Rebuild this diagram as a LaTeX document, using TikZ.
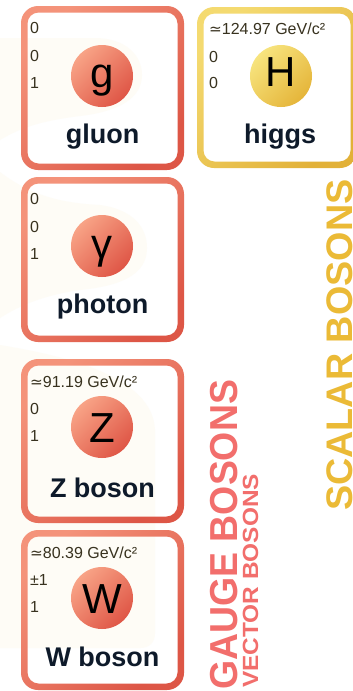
\documentclass[tikz,border=0pt]{standalone}
\usepackage{fontspec}
\setmainfont{Liberation Sans}
\newfontfamily\symfont{DejaVu Sans}
\definecolor{redA}{HTML}{F4937A}
\definecolor{redB}{HTML}{DD5646}
\definecolor{yelA}{HTML}{F4DA70}
\definecolor{yelB}{HTML}{E2B138}
\definecolor{cirRA}{HTML}{F8A386}
\definecolor{cirRB}{HTML}{DF5646}
\definecolor{cirYA}{HTML}{F7E47E}
\definecolor{cirYB}{HTML}{E5B53A}
\definecolor{cream}{HTML}{FEFCF6}
\definecolor{namec}{HTML}{0E1A2A}
\definecolor{numc}{HTML}{38321F}
\definecolor{gaugec}{HTML}{F26E6C}
\definecolor{scalarc}{HTML}{EBBA36}
\newcommand\approxeqsym{{\symfont\scalebox{0.95}{≃}}}
\tikzset{
  numtxt/.style={anchor=base west, inner sep=0pt, text=numc, font=\fontsize{16}{16}\selectfont},
  nametxt/.style={anchor=base, inner sep=0pt, text=namec, font=\fontsize{27}{27}\selectfont\bfseries},
  lettxt/.style={anchor=base, inner sep=0pt, text=black, font=\fontsize{42}{42}\selectfont},
  redball/.style={circle, minimum size=62pt, inner sep=0pt, top color=cirRA, bottom color=cirRB, shading angle=45},
  yelball/.style={circle, minimum size=62pt, inner sep=0pt, top color=cirYA, bottom color=cirYB, shading angle=45},
}
\newcommand\ringbox[6]{%
  \shade[even odd rule, top color=#5, bottom color=#6, shading angle=45, rounded corners=17pt]
    (#1,#2) rectangle (#3,#4) [rounded corners=11pt] (#1+6.5,#2+6.5) rectangle (#3-6.5,#4-6.5);}
\begin{document}
\begin{tikzpicture}[x=1pt,y=-1pt]
\useasboundingbox (0,0) rectangle (353,691);
\fill[white] (0,0) rectangle (353,691);
% faint cream background
\fill[cream] (0,38) -- (95,38) .. controls (125,38) and (142,55) .. (142,75)
  .. controls (142,100) and (115,112) .. (80,116) .. controls (40,121) and (20,128) .. (0,140) -- cycle;
\fill[cream] (0,172) .. controls (30,195) and (60,203) .. (100,205)
  .. controls (130,209) and (147,225) .. (147,248) .. controls (147,275) and (120,286) .. (80,290)
  .. controls (45,295) and (20,305) .. (0,318) -- cycle;
\fill[cream] (0,345) .. controls (60,355) and (153,375) .. (155,430) -- (155,633)
  .. controls (155,642) and (150,648) .. (140,648) -- (0,648) -- cycle;
% boxes
\ringbox{21}{6}{184}{170}{redA}{redB}
\ringbox{21}{177}{184}{342}{redA}{redB}
\ringbox{21}{359}{184}{523}{redA}{redB}
\ringbox{21}{530}{184}{690}{redA}{redB}
\ringbox{197}{7}{357}{168}{yelA}{yelB}
% gluon
\node[redball] (gball) at (102,76) {};
\node[lettxt] (glet) at (102,87) {g};
\node[numtxt] (gm) at (30,33) {0};
\node[numtxt] (gq) at (30,61) {0};
\node[numtxt] (gs) at (30,88) {1};
\node[nametxt] (gname) at (102.5,143) {gluon};
% higgs
\node[yelball] (hball) at (281,76) {};
\node[lettxt] (hlet) at (281,86) {H};
\node[numtxt] (hm) at (209,34) {\approxeqsym124.97 GeV/c²};
\node[numtxt] (hq) at (209,62) {0};
\node[numtxt] (hs) at (209,88) {0};
\node[nametxt] (hname) at (280,143) {higgs};
% photon
\node[redball] (pball) at (102,246) {};
\node[lettxt] (plet) at (102,258) {γ};
\node[numtxt] (pm) at (30,204) {0};
\node[numtxt] (pq) at (30,232) {0};
\node[numtxt] (ps) at (30,259) {1};
\node[nametxt] (pname) at (102.5,313) {photon};
% Z
\node[redball] (zball) at (102,427) {};
\node[lettxt] (zlet) at (102,442) {Z};
\node[numtxt] (zm) at (30,387) {\approxeqsym91.19 GeV/c²};
\node[numtxt] (zq) at (30,414) {0};
\node[numtxt] (zs) at (30,441) {1};
\node[nametxt] (zname) at (102.5,497) {Z boson};
% W
\node[redball] (wball) at (102,598) {};
\node[lettxt] (wlet) at (102,613) {W};
\node[numtxt] (wm) at (30,558) {\approxeqsym80.39 GeV/c²};
\node[numtxt] (wq) at (30,585) {±1};
\node[numtxt] (ws) at (30,612) {1};
\node[nametxt] (wname) at (102.5,666) {W boson};
% group labels
\node[anchor=base west, inner sep=0pt, rotate=90, text=gaugec, font=\fontsize{39}{39}\selectfont\bfseries] (gauge) at (237,690) {\scalebox{0.96}[1]{GAUGE BOSONS}};
\node[anchor=base west, inner sep=0pt, rotate=90, text=gaugec, font=\fontsize{22}{22}\selectfont\bfseries] (vector) at (258,688) {\scalebox{1.11}[1]{VECTOR BOSONS}};
\node[anchor=base west, inner sep=0pt, rotate=90, text=scalarc, font=\fontsize{37}{37}\selectfont\bfseries] (scalar) at (352.5,511) {\scalebox{1.02}[1]{SCALAR BOSONS}};
\end{tikzpicture}
\end{document}
